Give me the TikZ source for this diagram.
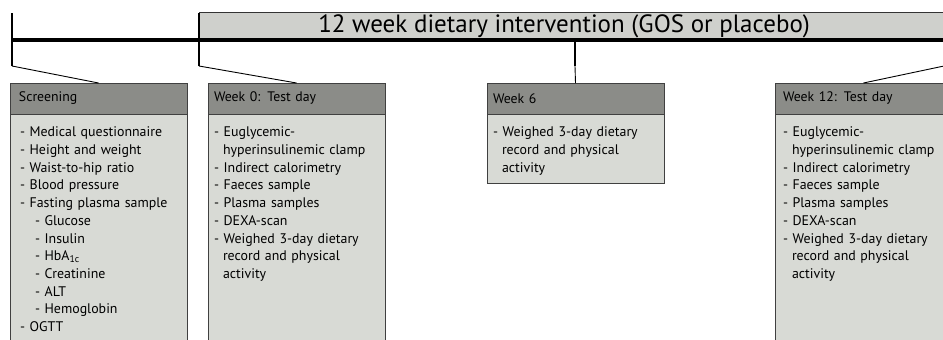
\documentclass[tikz,border=0pt]{standalone}
\usepackage{fontspec}
\setmainfont{PT Sans}
\usetikzlibrary{positioning}

\definecolor{headgray}{RGB}{139,140,136}
\definecolor{bodygray}{RGB}{216,218,213}
\definecolor{bandgray}{RGB}{207,208,204}

\newcommand{\subpt}{\hspace*{15pt}}
\newcommand{\contpt}{\hspace*{9pt}}
\newcommand{\testdaylist}{- Euglycemic-\\\contpt hyperinsulinemic clamp\\- Indirect calorimetry\\- Faeces sample\\- Plasma samples\\- DEXA-scan\\- Weighed 3-day dietary\\\contpt record and physical\\\contpt activity}

\begin{document}
\begin{tikzpicture}[
			x=1pt, y=-1pt,
			band/.style={rectangle, draw=black!80, fill=bandgray, line width=1pt, outer sep=0pt,
				anchor=north west, minimum width=760pt, minimum height=28pt},
			bandtext/.style={font=\fontsize{25}{30}\selectfont, inner sep=0pt},
			headbox/.style={rectangle, draw=black!75, fill=headgray, line width=1pt, outer sep=0pt,
				anchor=north west, text width=159pt, inner xsep=9pt, minimum height=31pt,
				align=left, font=\fontsize{13.8}{16}\selectfont},
			bodybox/.style={rectangle, draw=black!75, fill=bodygray, line width=1pt, outer sep=0pt,
				text width=157pt, inner xsep=10pt, inner ysep=13pt,
				align=left, font=\fontsize{13.9}{17.7}\selectfont},
			narrow/.style={inner xsep=6pt, text width=165pt},
			timeline/.style={line width=3.5pt},
			tick/.style={line width=2.5pt},
			spoke/.style={line width=0.9pt}
			]
			\clip (0,0) rectangle (943,340);
			\node[band] (band) at (199,12) {};
			\node[bandtext] (bandlabel) at (564,26) {12 week dietary intervention (GOS or placebo)};
			
			\coordinate (tlstart) at (12,40);
			\coordinate (tlend) at (950,40);
			\coordinate (scrtop) at (12,13);
			\coordinate (scrtick) at (12,66);
			\coordinate (wk0top) at (199,13);
			\coordinate (wk0tick) at (199,66);
			\coordinate (wk6top) at (575,40);
			\coordinate (wk6tick) at (575,66);
			\coordinate (wk12tick) at (944,66);
			
			\draw[timeline] (tlstart) -- (tlend);
			\draw[tick] (scrtop) -- (scrtick);
			\draw[tick] (wk0top) -- (wk0tick);
			\draw[tick] (wk6top) -- (wk6tick);
			
			\node[headbox] (scrhead) at (10,83) {Screening};
			\node[bodybox, below=0pt of scrhead, text depth=250pt] (scrbody) {- Medical questionnaire\\- Height and weight\\- Waist-to-hip ratio\\- Blood pressure\\- Fasting plasma sample\\\subpt- Glucose\\\subpt- Insulin\\\subpt- HbA\textsubscript{1c}\\\subpt- Creatinine\\\subpt- ALT\\\subpt- Hemoglobin\\- OGTT};
			\node[headbox, narrow] (wk0head) at (208,83) {Week 0: Test day};
			\node[bodybox, narrow, below=0pt of wk0head, text depth=250pt] (wk0body) {\testdaylist};
			\node[headbox, narrow] (wk6head) at (487,83) {Week 6};
			\node[bodybox, narrow, below=0pt of wk6head, text depth=33.6pt] (wk6body) {- Weighed 3-day dietary\\\contpt record and physical\\\contpt activity};
			\node[headbox, inner xsep=8pt, text width=161pt] (wk12head) at (775,83) {Week 12: Test day};
			\node[bodybox, inner xsep=8pt, text width=161pt, below=0pt of wk12head, text depth=250pt] (wk12body) {\testdaylist};
			
			\draw[spoke] (scrtick) -- (scrhead.north);
			\draw[spoke] (wk0tick) -- (wk0head.north);
			\draw[spoke] (wk6tick) -- (wk6head.north);
			\draw[spoke] (wk12tick) -- (wk12head.north);
		\end{tikzpicture}
\end{document}
